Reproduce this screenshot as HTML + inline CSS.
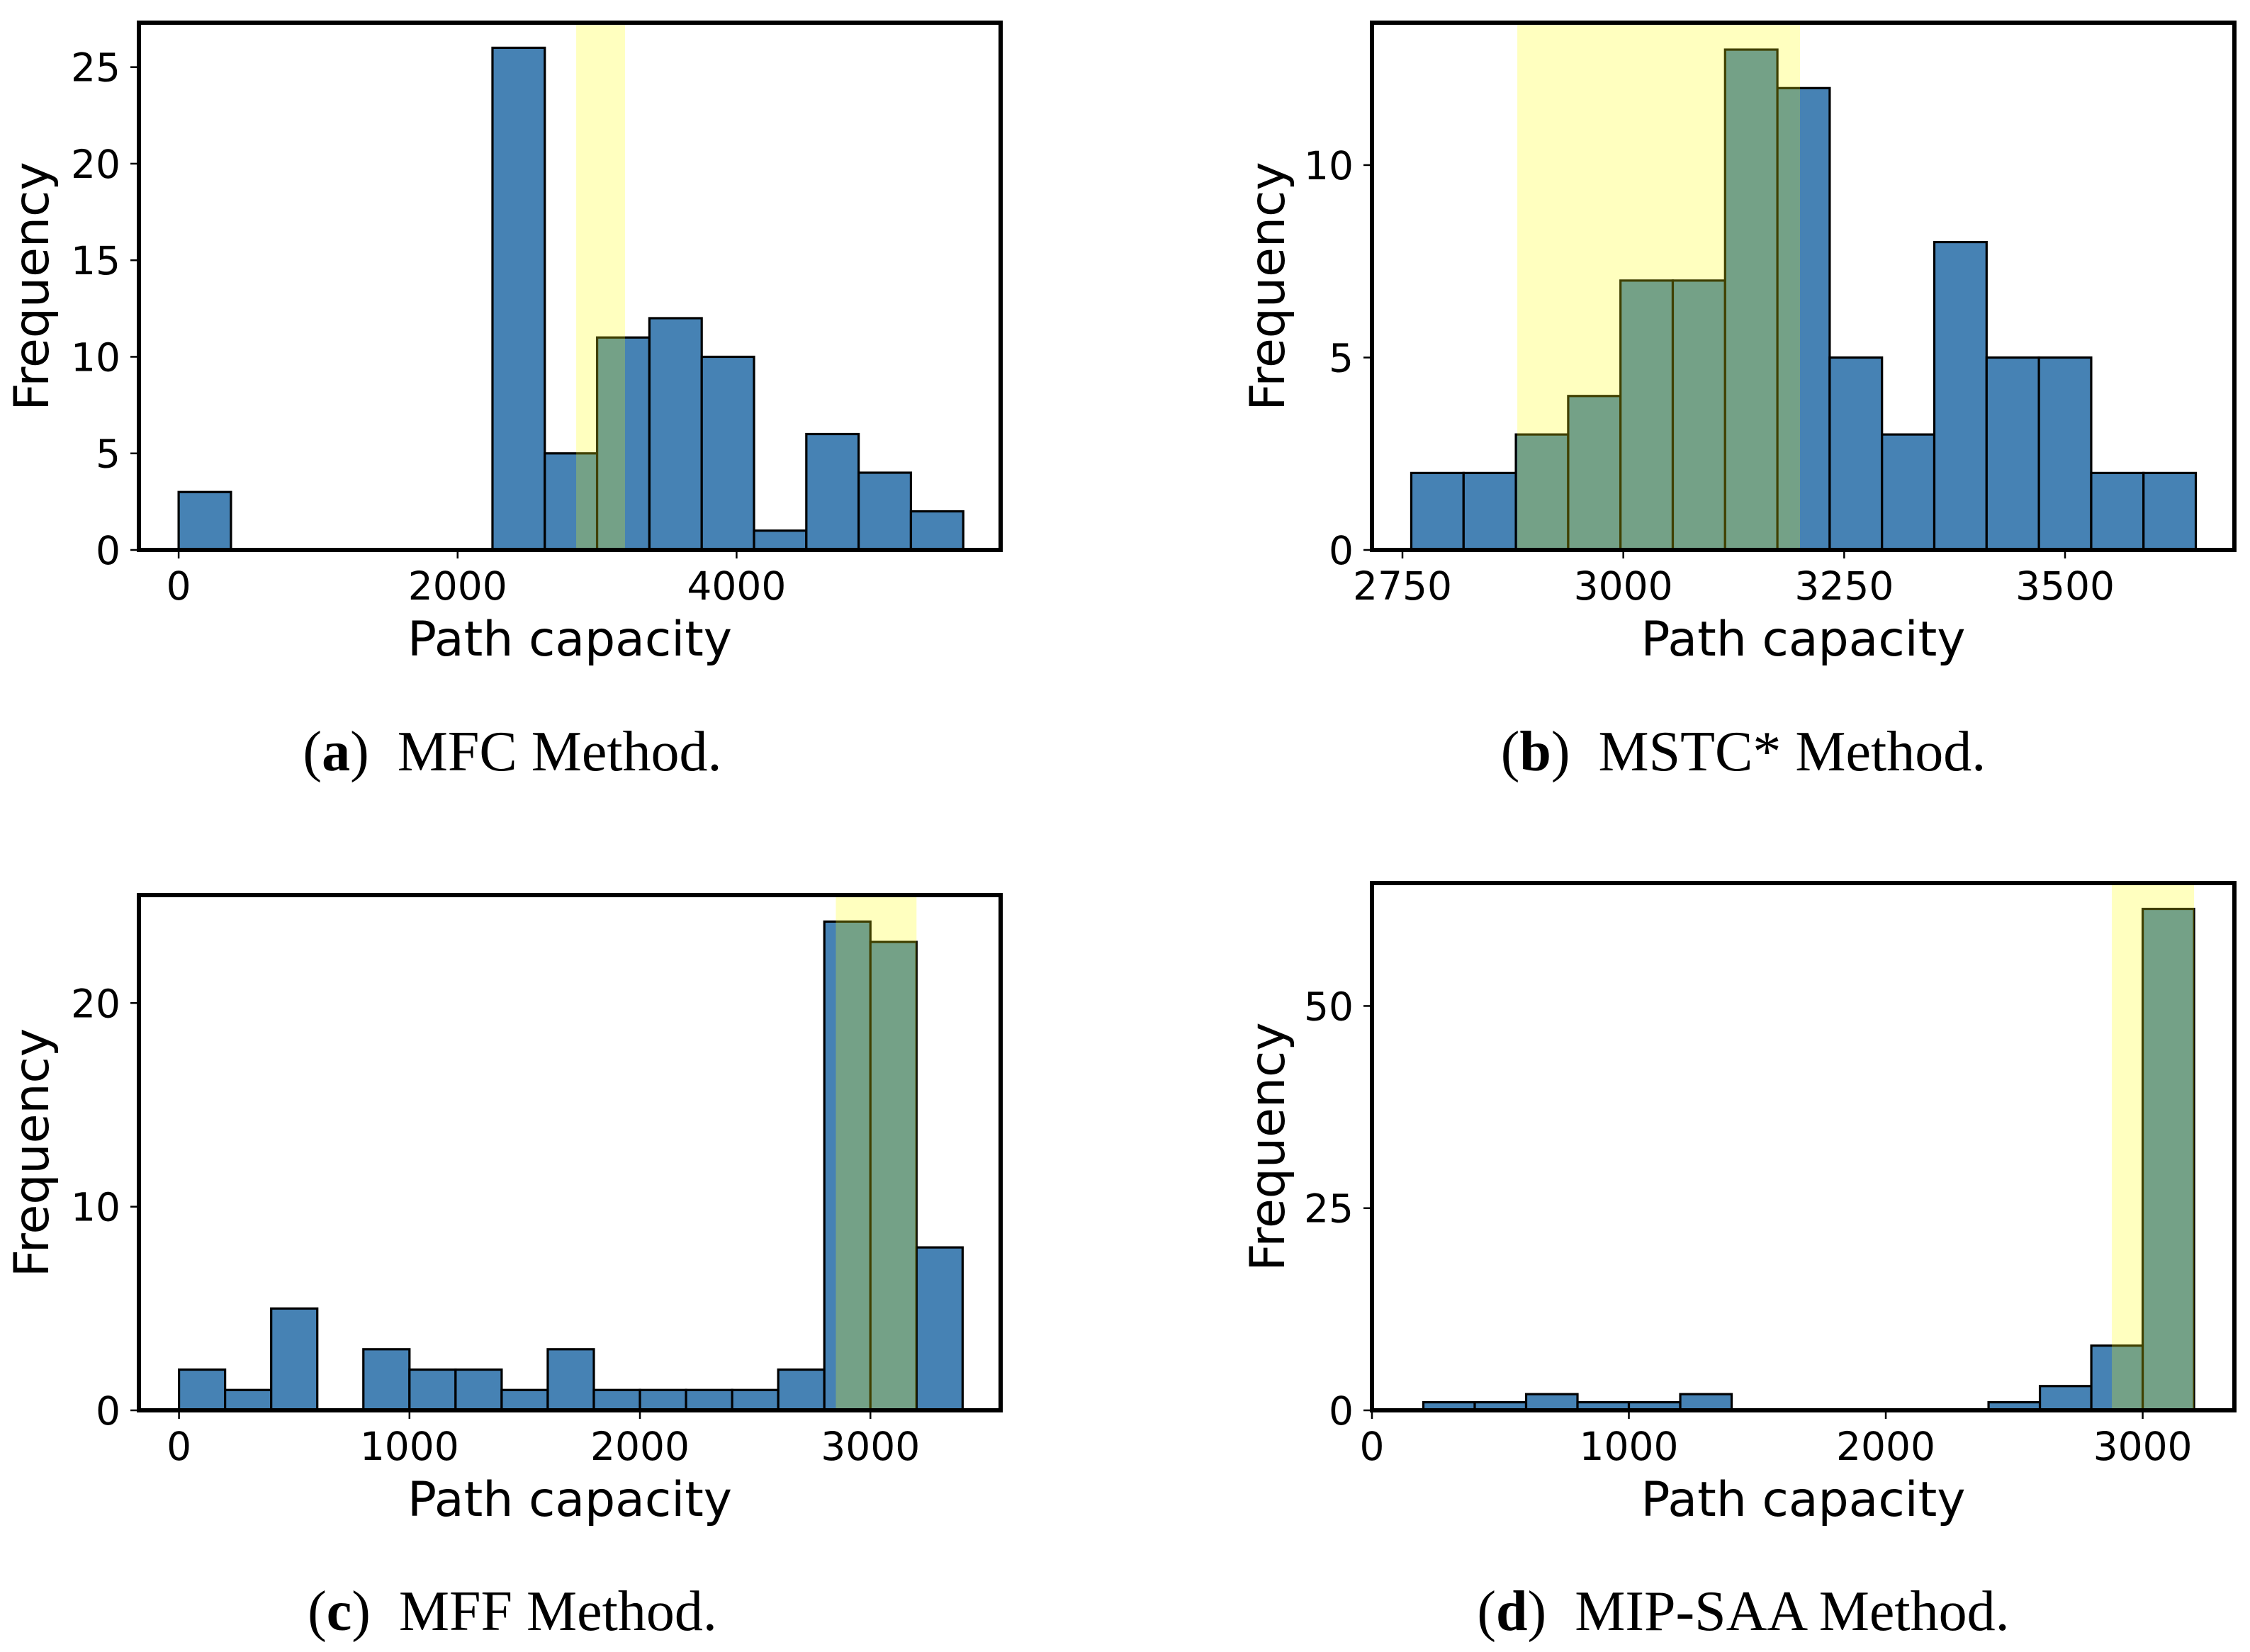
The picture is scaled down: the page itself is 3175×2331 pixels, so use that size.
<!DOCTYPE html>
<html><head><meta charset="utf-8"><style>
html,body{margin:0;padding:0;background:#fff;}
svg{display:block;}
text{font-family:"DejaVu Sans","Liberation Sans",sans-serif;fill:#000;}
.cap{font-family:"Liberation Serif",serif;}
</style></head><body>
<svg id="fig" width="3175" height="2331" viewBox="0 0 3175 2331" xmlns="http://www.w3.org/2000/svg"></svg>
<script>
// Panel a: MFC
const aCounts = [3,0,0,0,0,0,26,5,11,12,10,1,6,4,2];
const aBinStart = 0, aBinWidth = 375;
const aSpan = [2850, 3200];
const aXTicks = [0, 2000, 4000];
const aYTicks = [0, 5, 10, 15, 20, 25];
// Panel b: MSTC*
const bCounts = [2,2,3,4,7,7,13,12,5,3,8,5,5,2,2];
const bBinStart = 2760, bBinWidth = 59.2;
const bSpan = [2880, 3200];
const bXTicks = [2750, 3000, 3250, 3500];
const bYTicks = [0, 5, 10];
// Panel c: MFF
const cCounts = [2,1,5,0,3,2,2,1,3,1,1,1,1,2,24,23,8];
const cBinStart = 0, cBinWidth = 200;
const cSpan = [2850, 3200];
const cXTicks = [0, 1000, 2000, 3000];
const cYTicks = [0, 10, 20];
// Panel d: MIP-SAA
const dCounts = [1,1,2,1,1,2,0,0,0,0,0,1,3,8,62];
const dBinStart = 200, dBinWidth = 200;
const dSpan = [2880, 3200];
const dXTicks = [0, 1000, 2000, 3000];
const dYTicks = [0, 25, 50];

const NS = "http://www.w3.org/2000/svg";
const svg = document.getElementById('fig');
function mk(tag, attrs, parent){
  const e = document.createElementNS(NS, tag);
  for (const k in attrs) e.setAttribute(k, attrs[k]);
  (parent||svg).appendChild(e);
  return e;
}

const panels = [
  {id:'a', counts:aCounts, b0:aBinStart, bw:aBinWidth, span:aSpan, xt:aXTicks, yt:aYTicks,
   box:[196,32,1412,776], xmin:-285, xmax:5893, ymax:27.3, cap:['a','MFC Method.'], capX:723, capY:1087, ylx:68},
  {id:'b', counts:bCounts, b0:bBinStart, bw:bBinWidth, span:bSpan, xt:bXTicks, yt:bYTicks,
   box:[1936,32,3153,776], xmin:2715.5, xmax:3691.7, ymax:13.7, cap:['b','MSTC* Method.'], capX:2460, capY:1087, ylx:1812},
  {id:'c', counts:cCounts, b0:cBinStart, bw:cBinWidth, span:cSpan, xt:cXTicks, yt:cYTicks,
   box:[196,1263,1412,1990], xmin:-174, xmax:3565, ymax:25.3, cap:['c','MFF Method.'], capX:723, capY:2300, ylx:68},
  {id:'d', counts:dCounts, b0:dBinStart, bw:dBinWidth, span:dSpan, xt:dXTicks, yt:dYTicks,
   box:[1936,1246,3153,1990], xmin:0, xmax:3357, ymax:65.2, cap:['d','MIP-SAA Method.'], capX:2460, capY:2300, ylx:1812}
];

panels.forEach(p => {
  const [L,T,R,B] = p.box;
  const g = mk('g', {});
  
  
  const xs = v => L + (v - p.xmin) / (p.xmax - p.xmin) * (R - L);
  const ys = v => B - v / p.ymax * (B - T);
  p.counts.forEach((c, i) => {
    if (c <= 0) return;
    const x0 = xs(p.b0 + i * p.bw), x1 = xs(p.b0 + (i + 1) * p.bw);
    const r = mk('rect', {x:x0, y:ys(c), width:x1 - x0, height:B - ys(c), fill:'#4682b4', stroke:'#000', 'stroke-width':3.2}, g);
    
    
  });
  const sp = mk('rect', {x:xs(p.span[0]), y:T, width:xs(p.span[1]) - xs(p.span[0]), height:B - T, fill:'#ffff00', 'fill-opacity':0.25}, g);
  
  
  const fr = mk('rect', {x:L, y:T, width:R - L, height:B - T, fill:'none', stroke:'#000', 'stroke-width':6}, g);
  
  
  p.xt.forEach(v => {
    const x = xs(v);
    mk('line', {x1:x, y1:B, x2:x, y2:B + 12, stroke:'#000', 'stroke-width':2.5}, g);
    const t = mk('text', {x:x, y:B + 70, 'font-size':55, 'text-anchor':'middle'}, g);
    t.textContent = v;
    
    
  });
  p.yt.forEach(v => {
    const y = ys(v);
    mk('line', {x1:L, y1:y, x2:L - 12, y2:y, stroke:'#000', 'stroke-width':2.5}, g);
    const t = mk('text', {x:L - 26, y:y + 20, 'font-size':55, 'text-anchor':'end'}, g);
    t.textContent = v;
    
    
  });
  const xl = mk('text', {x:(L + R) / 2, y:B + 149, 'font-size':68, 'text-anchor':'middle'}, g);
  xl.textContent = 'Path capacity';
  
  
  const cy = (T + B) / 2;
  const yl = mk('text', {x:p.ylx, y:cy, 'font-size':68, 'text-anchor':'middle', transform:'rotate(-90 ' + p.ylx + ' ' + cy + ')'}, g);
  yl.textContent = 'Frequency';
  
  
  const cap = mk('text', {x:p.capX, y:p.capY, 'font-size':80, 'text-anchor':'middle', class:'cap'}, g);
  
  
  const s1 = mk('tspan', {}, cap); s1.textContent = '(';
  const s2 = mk('tspan', {'font-weight':'bold'}, cap); s2.textContent = p.cap[0];
  const s3 = mk('tspan', {}, cap); s3.textContent = ')\u2002' + p.cap[1];
});
</script>
</body></html>
